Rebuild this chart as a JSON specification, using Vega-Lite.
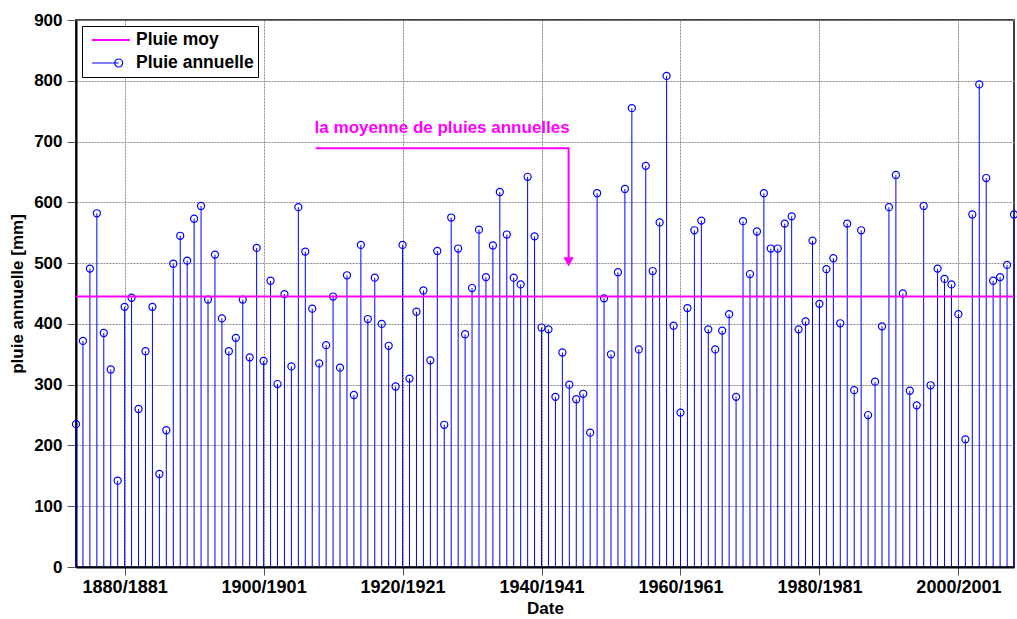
{
  "$schema": "https://vega.github.io/schema/vega-lite/v6.json",
  "width": 938,
  "height": 547,
  "autosize": {"type": "none"},
  "padding": {"left": 76, "top": 20, "right": 3, "bottom": 52},
  "background": "white",
  "config": {
    "font": "Liberation Sans",
    "view": {"stroke": "black", "strokeWidth": 1.5},
    "axis": {
      "grid": true,
      "gridColor": "#8c8c8c",
      "gridDash": [2, 1],
      "gridWidth": 1,
      "domainColor": "black",
      "domainWidth": 2,
      "tickColor": "#555",
      "tickSize": 9,
      "labelColor": "black",
      "labelFontWeight": "bold",
      "labelFontSize": 17,
      "titleColor": "black",
      "titleFontWeight": "bold",
      "titleFontSize": 17
    },
    "legend": {
      "orient": "top-left",
      "offset": 6,
      "padding": 4,
      "strokeColor": "black",
      "fillColor": "white",
      "labelFontSize": 17.5,
      "labelFontWeight": "bold",
      "labelColor": "black",
      "symbolSize": 2304,
      "symbolOpacity": 1,
      "clipHeight": 20,
      "rowPadding": 3,
      "labelOffset": 0
    }
  },
  "datasets": {
    "rain": [
      {"year": 1873, "value": 235}, {"year": 1874, "value": 372}, {"year": 1875, "value": 491}, {"year": 1876, "value": 582},
      {"year": 1877, "value": 385}, {"year": 1878, "value": 325}, {"year": 1879, "value": 142}, {"year": 1880, "value": 428},
      {"year": 1881, "value": 443}, {"year": 1882, "value": 260}, {"year": 1883, "value": 355}, {"year": 1884, "value": 428},
      {"year": 1885, "value": 153}, {"year": 1886, "value": 225}, {"year": 1887, "value": 499}, {"year": 1888, "value": 545},
      {"year": 1889, "value": 504}, {"year": 1890, "value": 573}, {"year": 1891, "value": 594}, {"year": 1892, "value": 440},
      {"year": 1893, "value": 514}, {"year": 1894, "value": 409}, {"year": 1895, "value": 355}, {"year": 1896, "value": 377},
      {"year": 1897, "value": 440}, {"year": 1898, "value": 345}, {"year": 1899, "value": 525}, {"year": 1900, "value": 339},
      {"year": 1901, "value": 471}, {"year": 1902, "value": 301}, {"year": 1903, "value": 449}, {"year": 1904, "value": 330},
      {"year": 1905, "value": 592}, {"year": 1906, "value": 519}, {"year": 1907, "value": 425}, {"year": 1908, "value": 335},
      {"year": 1909, "value": 365}, {"year": 1910, "value": 445}, {"year": 1911, "value": 328}, {"year": 1912, "value": 480},
      {"year": 1913, "value": 283}, {"year": 1914, "value": 530}, {"year": 1915, "value": 408}, {"year": 1916, "value": 476},
      {"year": 1917, "value": 400}, {"year": 1918, "value": 364}, {"year": 1919, "value": 297}, {"year": 1920, "value": 530},
      {"year": 1921, "value": 310}, {"year": 1922, "value": 420}, {"year": 1923, "value": 455}, {"year": 1924, "value": 340},
      {"year": 1925, "value": 520}, {"year": 1926, "value": 234}, {"year": 1927, "value": 575}, {"year": 1928, "value": 524},
      {"year": 1929, "value": 383}, {"year": 1930, "value": 459}, {"year": 1931, "value": 555}, {"year": 1932, "value": 477},
      {"year": 1933, "value": 529}, {"year": 1934, "value": 617}, {"year": 1935, "value": 547}, {"year": 1936, "value": 476},
      {"year": 1937, "value": 465}, {"year": 1938, "value": 642}, {"year": 1939, "value": 544}, {"year": 1940, "value": 394},
      {"year": 1941, "value": 391}, {"year": 1942, "value": 280}, {"year": 1943, "value": 353}, {"year": 1944, "value": 300},
      {"year": 1945, "value": 276}, {"year": 1946, "value": 285}, {"year": 1947, "value": 221}, {"year": 1948, "value": 615},
      {"year": 1949, "value": 442}, {"year": 1950, "value": 350}, {"year": 1951, "value": 485}, {"year": 1952, "value": 622},
      {"year": 1953, "value": 755}, {"year": 1954, "value": 358}, {"year": 1955, "value": 660}, {"year": 1956, "value": 487},
      {"year": 1957, "value": 567}, {"year": 1958, "value": 808}, {"year": 1959, "value": 397}, {"year": 1960, "value": 254},
      {"year": 1961, "value": 426}, {"year": 1962, "value": 554}, {"year": 1963, "value": 570}, {"year": 1964, "value": 391},
      {"year": 1965, "value": 358}, {"year": 1966, "value": 389}, {"year": 1967, "value": 416}, {"year": 1968, "value": 280},
      {"year": 1969, "value": 569}, {"year": 1970, "value": 482}, {"year": 1971, "value": 552}, {"year": 1972, "value": 615},
      {"year": 1973, "value": 524}, {"year": 1974, "value": 524}, {"year": 1975, "value": 565}, {"year": 1976, "value": 577},
      {"year": 1977, "value": 391}, {"year": 1978, "value": 404}, {"year": 1979, "value": 537}, {"year": 1980, "value": 433},
      {"year": 1981, "value": 490}, {"year": 1982, "value": 508}, {"year": 1983, "value": 401}, {"year": 1984, "value": 565},
      {"year": 1985, "value": 291}, {"year": 1986, "value": 554}, {"year": 1987, "value": 250}, {"year": 1988, "value": 305},
      {"year": 1989, "value": 396}, {"year": 1990, "value": 592}, {"year": 1991, "value": 645}, {"year": 1992, "value": 450},
      {"year": 1993, "value": 290}, {"year": 1994, "value": 266}, {"year": 1995, "value": 594}, {"year": 1996, "value": 299},
      {"year": 1997, "value": 491}, {"year": 1998, "value": 474}, {"year": 1999, "value": 465}, {"year": 2000, "value": 416},
      {"year": 2001, "value": 210}, {"year": 2002, "value": 580}, {"year": 2003, "value": 794}, {"year": 2004, "value": 640},
      {"year": 2005, "value": 471}, {"year": 2006, "value": 477}, {"year": 2007, "value": 497}, {"year": 2008, "value": 580}
    ],
    "mean": [{"value": 445}],
    "arrow": [
      {"year": 1907.5, "value": 689, "step": 1},
      {"year": 1943.9, "value": 689, "step": 2},
      {"year": 1943.9, "value": 505, "step": 3}
    ],
    "arrowhead": [{"year": 1943.9, "value": 502}],
    "note": [{"year": 1925.7, "value": 722, "label": "la moyenne de pluies annuelles"}],
    "legend": [{"series": "Pluie moy"}, {"series": "Pluie annuelle"}]
  },
  "layer": [
    {
      "data": {"name": "rain"},
      "mark": {"type": "rule", "color": "#0000ff", "strokeWidth": 1},
      "encoding": {
        "x": {
          "field": "year",
          "type": "quantitative",
          "scale": {"domain": [1873, 2008], "nice": false, "zero": false},
          "axis": {
            "title": "Date",
            "values": [1880, 1900, 1920, 1940, 1960, 1980, 2000],
            "labelExpr": "datum.value + '/' + (datum.value + 1)",
            "labelFontSize": 18,
            "tickSize": 8,
            "labelPadding": 3,
            "titlePadding": 4
          }
        },
        "y": {
          "field": "value",
          "type": "quantitative",
          "scale": {"domain": [0, 900], "nice": false},
          "axis": {
            "title": "pluie annuelle [mm]",
            "values": [0, 100, 200, 300, 400, 500, 600, 700, 800, 900],
            "labelPadding": 5,
            "titlePadding": 7
          }
        },
        "y2": {"datum": 0}
      }
    },
    {
      "data": {"name": "rain"},
      "mark": {"type": "point", "shape": "circle", "filled": false, "color": "#0000ff", "size": 50, "strokeWidth": 1.2, "opacity": 1},
      "encoding": {
        "x": {"field": "year", "type": "quantitative"},
        "y": {"field": "value", "type": "quantitative"}
      }
    },
    {
      "data": {"name": "mean"},
      "mark": {"type": "rule", "color": "#ff00ff", "strokeWidth": 2},
      "encoding": {"y": {"field": "value", "type": "quantitative"}}
    },
    {
      "data": {"name": "arrow"},
      "mark": {"type": "line", "color": "#ff00ff", "strokeWidth": 2},
      "encoding": {
        "x": {"field": "year", "type": "quantitative"},
        "y": {"field": "value", "type": "quantitative"},
        "order": {"field": "step"}
      }
    },
    {
      "data": {"name": "arrowhead"},
      "mark": {"type": "point", "shape": "triangle-down", "filled": true, "color": "#ff00ff", "size": 110, "opacity": 1},
      "encoding": {
        "x": {"field": "year", "type": "quantitative"},
        "y": {"field": "value", "type": "quantitative"}
      }
    },
    {
      "data": {"name": "note"},
      "mark": {"type": "text", "color": "#ff00ff", "fontWeight": "bold", "fontSize": 17, "align": "center", "baseline": "middle"},
      "encoding": {
        "x": {"field": "year", "type": "quantitative"},
        "y": {"field": "value", "type": "quantitative"},
        "text": {"field": "label"}
      }
    },
    {
      "data": {"name": "legend"},
      "mark": {"type": "point", "filled": false, "opacity": 0},
      "encoding": {
        "color": {
          "field": "series",
          "type": "nominal",
          "scale": {"domain": ["Pluie moy", "Pluie annuelle"], "range": ["#ff00ff", "#0000ff"]},
          "legend": {"title": null}
        },
        "shape": {
          "field": "series",
          "type": "nominal",
          "scale": {
            "domain": ["Pluie moy", "Pluie annuelle"],
            "range": ["M-0.79,0H0.79", "M-0.79,0H0.32M0.487,0A0.167,0.167 0 1,1 0.153,0A0.167,0.167 0 1,1 0.487,0"]
          },
          "legend": {"title": null}
        },
        "strokeWidth": {
          "field": "series",
          "type": "nominal",
          "scale": {"domain": ["Pluie moy", "Pluie annuelle"], "range": [2, 1.2]},
          "legend": {"title": null}
        }
      }
    }
  ]
}
